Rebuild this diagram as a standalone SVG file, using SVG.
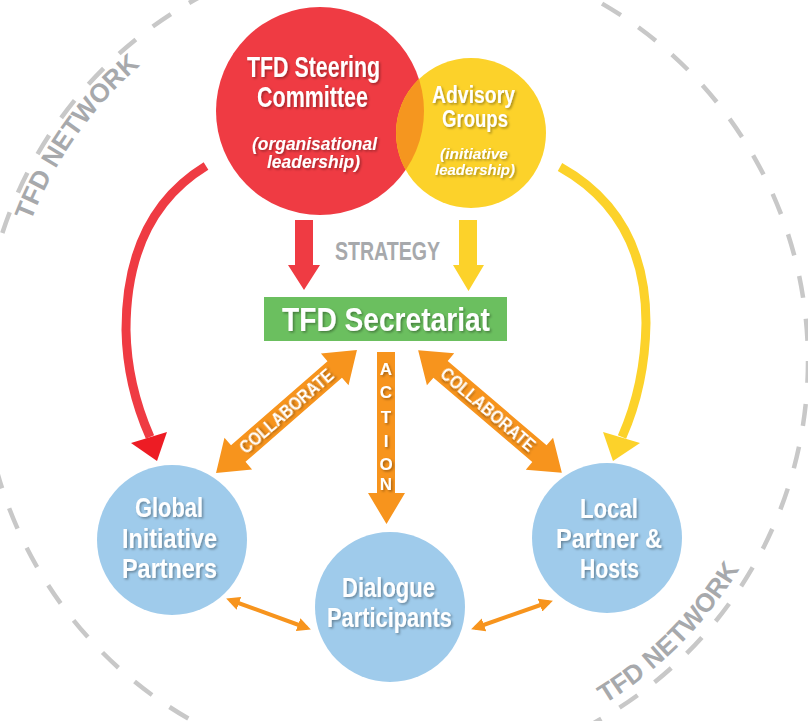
<svg xmlns="http://www.w3.org/2000/svg" width="808" height="721" viewBox="0 0 808 721">
<defs>
<style>
.w{fill:#fff;font-family:"Liberation Sans Narrow","Liberation Sans",Arial,sans-serif;font-weight:bold;text-anchor:middle;filter:url(#sh)}
.wi{fill:#fff;font-family:"Liberation Sans Narrow","Liberation Sans",Arial,sans-serif;font-style:italic;font-weight:bold;text-anchor:middle;filter:url(#sh)}
.g{fill:#a7a9ac;font-family:"Liberation Sans Narrow","Liberation Sans",Arial,sans-serif;font-weight:bold}
.arc{fill:#a7a9ac;font-family:"Liberation Sans",Arial,sans-serif;font-weight:bold;font-size:26px}
.blue{fill:#9fcbeb}
.or{fill:#f7941d}
.ol{stroke:#f7941d;stroke-width:4;fill:none;marker-start:url(#ah);marker-end:url(#ah)}
</style>
<filter id="sh" x="-20%" y="-30%" width="140%" height="170%">
<feDropShadow dx="1.5" dy="1.5" stdDeviation="1.2" flood-color="#000" flood-opacity="0.35"/>
</filter>
<clipPath id="redclip"><circle cx="320" cy="111" r="104"/></clipPath>
<marker id="ah" viewBox="0 0 10 10" refX="7" refY="5" markerWidth="3.4" markerHeight="3.4" orient="auto-start-reverse">
<path d="M0,0 L10,5 L0,10 z" fill="#f7941d"/>
</marker>
<path id="arcL" d="M30.9,221.2 A390,390 0 0 1 200,23.3"/>
<path id="arcR" d="M605,703.7 A405,405 0 0 0 760,531"/>
</defs>

<g id="network">
<circle cx="395" cy="361" r="413" fill="none" stroke="#c8c8c8" stroke-width="4.5" stroke-dasharray="22 21.25"/>
<text class="arc"><textPath href="#arcL">TFD NETWORK</textPath></text>
<text class="arc"><textPath href="#arcR">TFD NETWORK</textPath></text>
</g>

<g id="connectors">
<path d="M206,166 Q126,215 126,330 Q127,385 150,437" fill="none" stroke="#ef3b43" stroke-width="9"/>
<polygon points="131,443 167,432 157,461" fill="#ed1c24"/>
<path d="M560,167 Q646,215 646,323 Q645,385 622,437" fill="none" stroke="#fcd22a" stroke-width="9"/>
<polygon points="603,432 640,443 613,461" fill="#fcd22a"/>
<polygon points="295,220 313,220 313,265 320,265 304,290 288,265 295,265" fill="#ef3b43"/>
<polygon points="459,220 477,220 477,265 484,265 468.5,291 453,265 459,265" fill="#fcd22a"/>
<text class="g" x="387.5" y="260" font-size="25" text-anchor="middle" textLength="105" lengthAdjust="spacingAndGlyphs">STRATEGY</text>
<g transform="translate(286.5,411.5) rotate(-41.1)">
<polygon class="or" points="-93.5,0 -64,-21 -64,-11 64,-11 64,-21 93.5,0 64,21 64,11 -64,11 -64,21"/>
<text class="w" x="0" y="6.5" font-size="18" textLength="118" lengthAdjust="spacingAndGlyphs">COLLABORATE</text>
</g>
<g transform="translate(490,411.5) rotate(40.5)">
<polygon class="or" points="-94.5,0 -65,-21 -65,-11 65,-11 65,-21 94.5,0 65,21 65,11 -65,11 -65,21"/>
<text class="w" x="-3" y="6.5" font-size="18" textLength="118" lengthAdjust="spacingAndGlyphs">COLLABORATE</text>
</g>
<polygon class="or" points="377,352 395,352 395,493 405,493 386.5,524 368,493 377,493"/>
<g class="w" font-size="17">
<text x="386" y="375">A</text>
<text x="386" y="398">C</text>
<text x="386" y="423">T</text>
<text x="386" y="447">I</text>
<text x="386" y="470">O</text>
<text x="386" y="490">N</text>
</g>
<line class="ol" x1="230" y1="600" x2="307" y2="628"/>
<line class="ol" x1="475" y1="628" x2="549" y2="602"/>
</g>

<g id="steering">
<circle cx="320" cy="111" r="104" fill="#ef3b43"/>
</g>
<g id="advisory">
<circle cx="471" cy="133" r="75" fill="#fcd22a"/>
<circle cx="471" cy="133" r="75" fill="#f5961f" clip-path="url(#redclip)"/>
<text class="w" x="473.5" y="103" font-size="24" textLength="83" lengthAdjust="spacingAndGlyphs">Advisory</text>
<text class="w" x="475" y="127" font-size="24" textLength="66" lengthAdjust="spacingAndGlyphs">Groups</text>
<text class="wi" x="474" y="159" font-size="15" textLength="68" lengthAdjust="spacingAndGlyphs">(initiative</text>
<text class="wi" x="475" y="175" font-size="15" textLength="80" lengthAdjust="spacingAndGlyphs">leadership)</text>
</g>
<g id="steering-text">
<text class="w" x="313.5" y="77" font-size="30" textLength="133" lengthAdjust="spacingAndGlyphs">TFD Steering</text>
<text class="w" x="312.5" y="107" font-size="30" textLength="111" lengthAdjust="spacingAndGlyphs">Committee</text>
<text class="wi" x="314.5" y="150" font-size="18" textLength="125" lengthAdjust="spacingAndGlyphs">(organisational</text>
<text class="wi" x="313.5" y="168" font-size="18" textLength="93" lengthAdjust="spacingAndGlyphs">leadership)</text>
</g>

<g id="secretariat">
<rect x="264" y="297" width="243" height="44" fill="#6bbf5f"/>
<text class="w" x="386" y="331" font-size="33" textLength="208" lengthAdjust="spacingAndGlyphs">TFD Secretariat</text>
</g>

<g id="global">
<circle class="blue" cx="172" cy="540" r="75"/>
<text class="w" x="169" y="517" font-size="27" textLength="68" lengthAdjust="spacingAndGlyphs">Global</text>
<text class="w" x="169.5" y="548" font-size="27" textLength="95" lengthAdjust="spacingAndGlyphs">Initiative</text>
<text class="w" x="169.5" y="578" font-size="27" textLength="95" lengthAdjust="spacingAndGlyphs">Partners</text>
</g>
<g id="dialogue">
<circle class="blue" cx="390" cy="607" r="75"/>
<text class="w" x="388.5" y="597" font-size="27" textLength="93" lengthAdjust="spacingAndGlyphs">Dialogue</text>
<text class="w" x="389.5" y="627" font-size="27" textLength="125" lengthAdjust="spacingAndGlyphs">Participants</text>
</g>
<g id="local">
<circle class="blue" cx="607" cy="538" r="75"/>
<text class="w" x="609" y="518" font-size="27" textLength="58" lengthAdjust="spacingAndGlyphs">Local</text>
<text class="w" x="609" y="548" font-size="27" textLength="106" lengthAdjust="spacingAndGlyphs">Partner &amp;</text>
<text class="w" x="609.5" y="578" font-size="27" textLength="59" lengthAdjust="spacingAndGlyphs">Hosts</text>
</g>
</svg>
